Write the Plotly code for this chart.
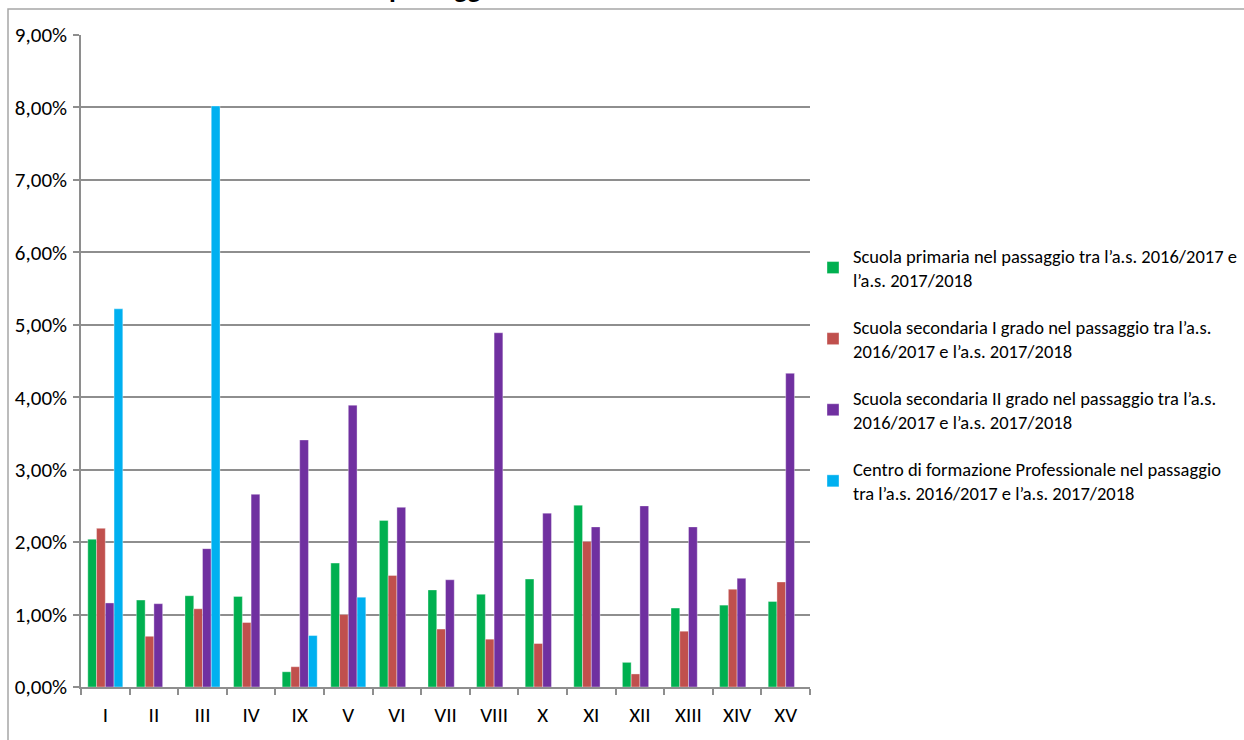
import plotly.graph_objects as go

# Categorie (ambiti) sull'asse x
categorie = ["I", "II", "III", "IV", "IX", "V", "VI", "VII", "VIII", "X",
             "XI", "XII", "XIII", "XIV", "XV"]

# Valori percentuali per ordine di scuola
primaria = [2.04, 1.20, 1.26, 1.25, 0.21, 1.71, 2.30, 1.34, 1.28, 1.49,
            2.51, 0.34, 1.09, 1.13, 1.18]
secondaria_1 = [2.19, 0.70, 1.08, 0.89, 0.28, 1.00, 1.54, 0.80, 0.66, 0.60,
                2.01, 0.18, 0.77, 1.35, 1.45]
secondaria_2 = [1.16, 1.15, 1.91, 2.66, 3.41, 3.89, 2.48, 1.48, 4.89, 2.40,
                2.21, 2.50, 2.21, 1.50, 4.33]
formazione_prof = [5.22, None, 8.02, None, 0.71, 1.24, None, None, None, None,
                   None, None, None, None, None]

nomi = [
    "Scuola primaria nel passaggio tra l’a.s. 2016/2017 e<br>l’a.s. 2017/2018",
    "Scuola secondaria I grado nel passaggio tra l’a.s.<br>2016/2017 e l’a.s. 2017/2018",
    "Scuola secondaria II grado nel passaggio tra l’a.s.<br>2016/2017 e l’a.s. 2017/2018",
    "Centro di formazione Professionale nel passaggio<br>tra l’a.s. 2016/2017 e l’a.s. 2017/2018",
]
colori = ["#00B050", "#C0504D", "#7030A0", "#00B0F0"]
serie = [primaria, secondaria_1, secondaria_2, formazione_prof]

FONT = "Carlito, Calibri, Lato, sans-serif"
W, H = 1244, 740
L, R, T, B = 81, 810, 35, 687  # plot area in pixels

fig = go.Figure()
for i, (nome, col, vals) in enumerate(zip(nomi, colori, serie)):
    fig.add_trace(go.Bar(
        x=categorie,
        y=[v / 100 if v is not None else None for v in vals],
        name=nome,
        legendgroup=f"g{i}",
        marker=dict(color=col, line=dict(color="rgba(255,255,255,0.6)", width=0.6)),
    ))


def px_x(p):
    return (p - L) / (R - L)


def px_y(p):
    return (B - p) / (B - T)


grid = "#8e8e8e"
fig.update_layout(
    width=W, height=H,
    margin=dict(l=L, r=W - R, t=T, b=H - B, autoexpand=False),
    paper_bgcolor="white", plot_bgcolor="white",
    barmode="group", bargap=0.28, bargroupgap=0,
    font=dict(family=FONT, size=18, color="#000000"),
    separators=",.",
    showlegend=True,
    legend=dict(
        x=px_x(813), y=px_y(237), xanchor="left", yanchor="top",
        tracegroupgap=20, traceorder="grouped",
        font=dict(family=FONT, size=18.5, color="#000000"),
        itemwidth=30,
    ),
    xaxis=dict(
        type="category", showgrid=False,
        showline=True, linecolor=grid, linewidth=1.5,
        ticks="outside", tickson="boundaries", ticklen=6, tickcolor=grid,
        tickwidth=1.5,
        tickfont=dict(family=FONT, size=21), ticklabelstandoff=8,
    ),
    yaxis=dict(
        range=[0, 0.09], dtick=0.01, tickformat=".2%",
        showgrid=True, gridcolor=grid, gridwidth=1.5,
        showline=True, linecolor=grid, linewidth=1.5,
        ticks="outside", ticklen=6, tickcolor=grid, tickwidth=1.5,
        tickfont=dict(family=FONT, size=21), zeroline=False,
        ticklabelstandoff=2,
    ),
    shapes=[dict(
        type="rect", xref="paper", yref="paper",
        x0=px_x(8), x1=px_x(1260), y0=px_y(760), y1=px_y(9),
        line=dict(color="#a6a6a6", width=1.5), fillcolor="rgba(0,0,0,0)",
        layer="below",
    )],
    annotations=[dict(
        text="<b>passaggio</b>", xref="paper", yref="paper",
        x=px_x(387), y=px_y(8), xanchor="left", yanchor="bottom",
        showarrow=False, font=dict(family=FONT, size=28, color="#000000"),
    )],
)

fig.write_html("out.html")
